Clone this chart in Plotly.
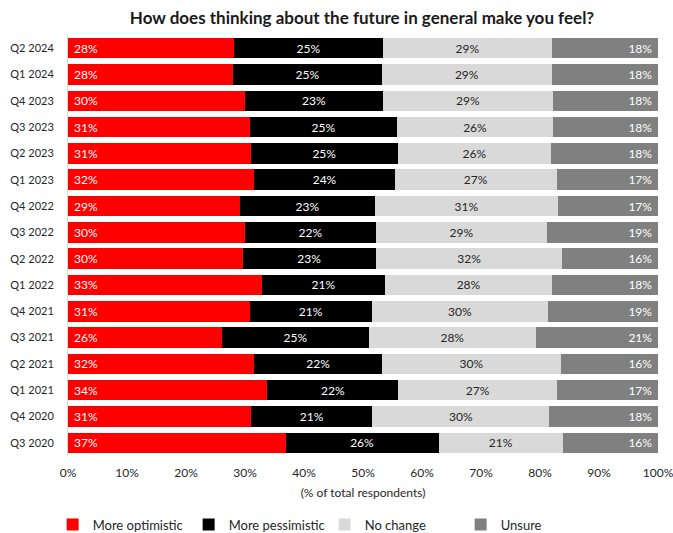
import plotly.graph_objects as go

quarters = ["Q2 2024", "Q1 2024", "Q4 2023", "Q3 2023", "Q2 2023", "Q1 2023", "Q4 2022", "Q3 2022",
            "Q2 2022", "Q1 2022", "Q4 2021", "Q3 2021", "Q2 2021", "Q1 2021", "Q4 2020", "Q3 2020"]
more_optimistic = [28.1, 28.0, 30.0, 30.8, 31.0, 31.6, 29.2, 30.0, 29.6, 32.9, 30.8, 26.1, 31.6, 33.8, 31.0, 36.9]
more_pessimistic = [25.3, 25.2, 23.4, 25.0, 24.9, 23.8, 22.8, 22.2, 22.6, 20.8, 20.7, 24.9, 21.6, 22.2, 20.6, 25.9]
no_change = [28.6, 28.8, 28.8, 26.4, 26.0, 27.4, 31.1, 29.0, 31.6, 28.4, 29.9, 28.3, 30.4, 26.9, 30.0, 21.1]
unsure = [18.0, 18.0, 17.8, 17.8, 18.1, 17.2, 16.9, 18.8, 16.2, 17.9, 18.6, 20.7, 16.4, 17.1, 18.4, 16.1]

x_ticks = [0, 10, 20, 30, 40, 50, 60, 70, 80, 90, 100]
x_tick_labels = ["0%", "10%", "20%", "30%", "40%", "50%", "60%", "70%", "80%", "90%", "100%"]

FONT = "Lato"
NB = "\u00a0"
series = [
    ("More optimistic", more_optimistic, "#FF0000", "white", "start", NB + "%{x:.0f}%"),
    ("More pessimistic", more_pessimistic, "#000000", "white", "middle", "%{x:.0f}%"),
    ("No change", no_change, "#D9D9D9", "#262626", "middle", "%{x:.0f}%"),
    ("Unsure", unsure, "#808080", "white", "end", "%{x:.0f}%" + NB),
]

fig = go.Figure()
for name, vals, color, tcol, anchor, tmpl in series:
    fig.add_trace(go.Bar(
        y=quarters, x=vals, name=name, orientation="h",
        marker=dict(color=color, line=dict(width=0)),
        texttemplate=tmpl, textposition="inside", insidetextanchor=anchor,
        textfont=dict(color=tcol, size=12, family=FONT),
        constraintext="none",
    ))

fig.update_layout(
    barmode="stack",
    bargap=0.22,
    width=673, height=533,
    margin=dict(l=68, r=15, t=35, b=77, autoexpand=False),
    paper_bgcolor="white", plot_bgcolor="white",
    font=dict(family=FONT, size=12, color="#262626"),
    title=dict(text="<b>How does thinking about the future in general make you feel?</b>",
               x=0.5379, xanchor="center", y=0.966, yanchor="middle",
               font=dict(size=17, family=FONT, color="#1a1a1a")),
    showlegend=True,
    legend=dict(orientation="h", x=-0.026, xanchor="left", y=-0.163, yanchor="middle",
                entrywidth=91, entrywidthmode="pixels", itemwidth=30,
                font=dict(size=13, family=FONT), traceorder="normal",
                itemclick=False),
    xaxis=dict(range=[0, 100], tickmode="array", tickvals=x_ticks, ticktext=x_tick_labels,
               showgrid=False, zeroline=False, automargin=False, ticklabeloverflow="allow",
               showline=False, ticks="", tickfont=dict(size=12), ticklabelstandoff=8,
               title=dict(text="(% of total respondents)", standoff=9, font=dict(size=12))),
    yaxis=dict(autorange="reversed", showgrid=False, showline=True, linecolor="#D9D9D9",
               linewidth=1, ticks="", ticklabelstandoff=11, automargin=False,
               tickfont=dict(size=11)),
)

fig.write_html("out.html")
